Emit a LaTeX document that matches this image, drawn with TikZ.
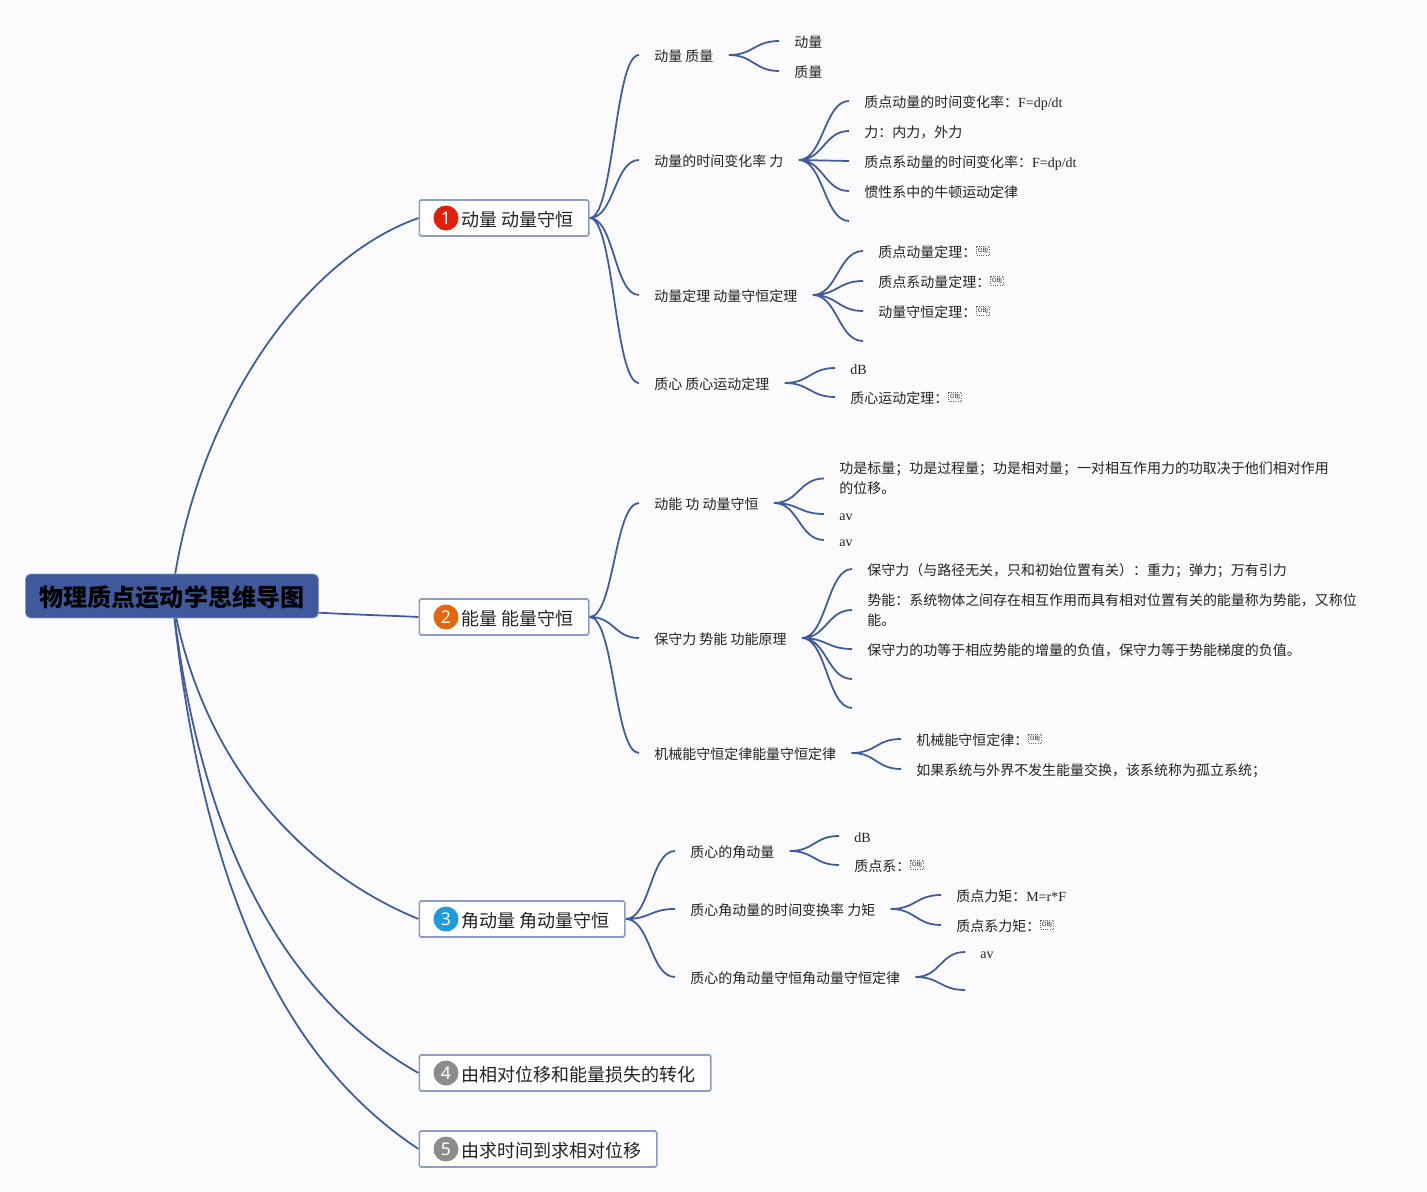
\documentclass[tikz,border=0pt]{standalone}
\usepackage{fontspec}
\setmainfont{Liberation Serif}
\newfontfamily\cjk{Noto Sans CJK SC}
\newfontfamily\notosans{Noto Sans}
\usetikzlibrary{backgrounds}
\definecolor{pagebg}{HTML}{FBFBFD}
\definecolor{linkblue}{HTML}{3F5A9E}
\definecolor{rootblue}{HTML}{3E5A9C}
\definecolor{topicedge}{HTML}{8D9CC5}
\definecolor{inkgrey}{HTML}{222222}
\definecolor{badgered}{HTML}{E1200C}
\definecolor{badgeorange}{HTML}{E4660F}
\definecolor{badgeblue}{HTML}{1C9BDD}
\definecolor{badgegrey}{HTML}{8C8C8C}
\newcommand{\lat}[1]{{\rmfamily #1}}
\newcommand{\badgegap}{\hspace*{0.55cm}}
\tikzset{
  rootnode/.style={draw=topicedge, fill=rootblue, rounded corners=2.8pt, minimum width=5.86cm, minimum height=0.88cm, inner sep=0pt, text height=12pt, text depth=0pt, font=\cjk\bfseries\fontsize{13.7}{16}\selectfont},
  topic/.style={draw=topicedge, line width=0.9pt, fill=white, rounded corners=1pt, anchor=west, minimum height=0.72cm, inner xsep=0.3cm, inner ysep=0pt, text=inkgrey, text height=9.5pt, text depth=0pt, font=\cjk\fontsize{10.25}{12}\selectfont},
  badge/.style={circle, minimum size=0.5cm, inner sep=0pt, text=white, font=\notosans\fontsize{10}{12}\selectfont},
  sub/.style={anchor=west, inner xsep=0.3cm, inner ysep=0pt, text=inkgrey, text height=7.3pt, text depth=0pt, font=\cjk\fontsize{7.96}{9}\selectfont},
  para/.style={anchor=west, align=left, inner xsep=0.3cm, inner ysep=0pt, text=inkgrey, font=\cjk\fontsize{7.96}{11.34}\selectfont},
  objmark/.style={draw=inkgrey!70, densely dotted, line width=0.3pt, minimum width=0.26cm, minimum height=0.17cm, inner sep=0pt, text=inkgrey, font=\notosans\fontsize{3.4}{4}\selectfont},
  branch/.style={draw=linkblue, line width=1pt, out=0, in=180, distance=14pt},
  rootlink/.style={draw=linkblue, line width=1pt}
}
\begin{document}
\begin{tikzpicture}[x=0.02cm, y=-0.02cm]
\useasboundingbox (0,0) rectangle (1427,1192);
% root and main topics
\node[rootnode] (root) at (172,596) {物理质点运动学思维导图};
\node[topic] (t1) at (418.5,218) {\badgegap 动量 动量守恒};
\node[topic] (t2) at (418.5,617) {\badgegap 能量 能量守恒};
\node[topic] (t3) at (418.5,919) {\badgegap 角动量 角动量守恒};
\node[topic] (t4) at (418.5,1073) {\badgegap 由相对位移和能量损失的转化};
\node[topic] (t5) at (418.5,1149) {\badgegap 由求时间到求相对位移};
\node[badge, fill=badgered] (b1) at (446,218) {1};
\node[badge, fill=badgeorange] (b2) at (446,617) {2};
\node[badge, fill=badgeblue] (b3) at (446,919) {3};
\node[badge, fill=badgegrey] (b4) at (446,1073) {4};
\node[badge, fill=badgegrey] (b5) at (446,1149) {5};
% second level
\node[sub] (s1) at (639,55) {动量 质量};
\node[sub] (s2) at (639,160) {动量的时间变化率 力};
\node[sub] (s3) at (639,295) {动量定理 动量守恒定理};
\node[sub] (s4) at (639,383) {质心 质心运动定理};
\node[sub] (s5) at (639,503) {动能 功 动量守恒};
\node[sub] (s6) at (639,638) {保守力 势能 功能原理};
\node[sub] (s7) at (639,753) {机械能守恒定律能量守恒定律};
\node[sub] (s8) at (675,851) {质心的角动量};
\node[sub] (s9) at (675,909) {质心角动量的时间变换率 力矩};
\node[sub] (s10) at (675,977) {质心的角动量守恒角动量守恒定律};
% leaves
\node[sub] (l11) at (779,41) {动量};
\node[sub] (l12) at (779,71) {质量};
\node[sub] (l21) at (849,101) {质点动量的时间变化率：\lat{F=dp/dt}};
\node[sub] (l22) at (849,131) {力：内力，外力};
\node[sub] (l23) at (849,161) {质点系动量的时间变化率：\lat{F=dp/dt}};
\node[sub] (l24) at (849,191) {惯性系中的牛顿运动定律};
\coordinate (l25) at (849,221);
\node[sub] (l31) at (863,251) {质点动量定理：};
\node[sub] (l32) at (863,281) {质点系动量定理：};
\node[sub] (l33) at (863,311) {动量守恒定理：};
\coordinate (l34) at (863,341);
\node[sub] (l41) at (835,368) {\lat{dB}};
\node[sub] (l42) at (835,397) {质心运动定理：};
\node[para] (l51) at (824,478.5) {功是标量；功是过程量；功是相对量；一对相互作用力的功取决于他们相对作用\\的位移。};
\node[sub] (l52) at (824,514) {\lat{av}};
\node[sub] (l53) at (824,540) {\lat{av}};
\node[sub] (l61) at (852,569) {保守力（与路径无关，只和初始位置有关）：重力；弹力；万有引力};
\node[para] (l62) at (852,610) {势能：系统物体之间存在相互作用而具有相对位置有关的能量称为势能，又称位\\能。};
\node[sub] (l63) at (852,649) {保守力的功等于相应势能的增量的负值，保守力等于势能梯度的负值。};
\coordinate (l64) at (852,679);
\coordinate (l65) at (852,708);
\node[sub] (l71) at (901,739) {机械能守恒定律：};
\node[sub] (l72) at (901,769) {如果系统与外界不发生能量交换，该系统称为孤立系统；};
\node[sub] (l81) at (839,836) {\lat{dB}};
\node[sub] (l82) at (839,865) {质点系：};
\node[sub] (l91) at (941,895) {质点力矩：\lat{M=r*F}};
\node[sub] (l92) at (941,925) {质点系力矩：};
\node[sub] (l101) at (965,952) {\lat{av}};
\coordinate (l102) at (965,990);
% object placeholders
\node[objmark] (o31) at (983,251) {OBJ};
\node[objmark] (o32) at (997,281) {OBJ};
\node[objmark] (o33) at (983,311) {OBJ};
\node[objmark] (o42) at (955,397) {OBJ};
\node[objmark] (o71) at (1035,739) {OBJ};
\node[objmark] (o82) at (917,865) {OBJ};
\node[objmark] (o92) at (1047,925) {OBJ};
% root links stay behind the root box
\begin{scope}[on background layer]
\fill[pagebg] (0,0) rectangle (1427,1192);
\draw[rootlink] (root.center) .. controls +(22,-177) and +(-119,42) .. (t1.west);
\draw[rootlink] (root.center) .. controls +(80,17) and +(-60,-3) .. (t2.west);
\draw[rootlink] (root.center) .. controls +(28,164) and +(-119,-49) .. (t3.west);
\draw[rootlink] (root.center) .. controls +(28,254) and +(-129,-73) .. (t4.west);
\draw[rootlink] (root.center) .. controls +(33,324) and +(-119,-79) .. (t5.west);
\end{scope}
% branches
\draw[branch] (t1.east) to (s1.west) (t1.east) to (s2.west) (t1.east) to (s3.west) (t1.east) to (s4.west);
\draw[branch] (t2.east) to (s5.west) (t2.east) to (s6.west) (t2.east) to (s7.west);
\draw[branch] (t3.east) to (s8.west) (t3.east) to (s9.west) (t3.east) to (s10.west);
\draw[branch] (s1.east) to (l11.west) (s1.east) to (l12.west);
\draw[branch] (s2.east) to (l21.west) (s2.east) to (l22.west) (s2.east) to (l23.west) (s2.east) to (l24.west) (s2.east) to (l25);
\draw[branch] (s3.east) to (l31.west) (s3.east) to (l32.west) (s3.east) to (l33.west) (s3.east) to (l34);
\draw[branch] (s4.east) to (l41.west) (s4.east) to (l42.west);
\draw[branch] (s5.east) to (l51.west) (s5.east) to (l52.west) (s5.east) to (l53.west);
\draw[branch] (s6.east) to (l61.west) (s6.east) to (l62.west) (s6.east) to (l63.west) (s6.east) to (l64) (s6.east) to (l65);
\draw[branch] (s7.east) to (l71.west) (s7.east) to (l72.west);
\draw[branch] (s8.east) to (l81.west) (s8.east) to (l82.west);
\draw[branch] (s9.east) to (l91.west) (s9.east) to (l92.west);
\draw[branch] (s10.east) to (l101.west) (s10.east) to (l102);
\end{tikzpicture}
\end{document}
